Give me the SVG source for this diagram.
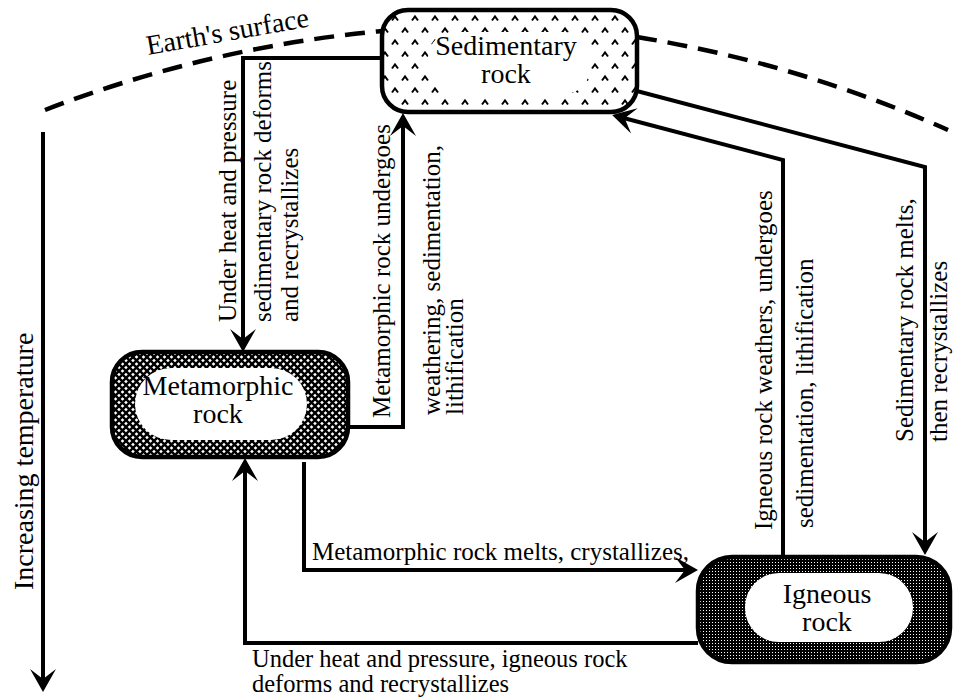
<svg xmlns="http://www.w3.org/2000/svg" width="953" height="698" viewBox="0 0 953 698">
<style>
  .lbl { font-family: "Liberation Serif", "Times New Roman", serif; font-size: 25px; fill: #000; }
  .big { font-family: "Liberation Serif", "Times New Roman", serif; font-size: 28px; fill: #000; }
  .node { stroke: #000; stroke-width: 4.5; }
  .con { fill: none; stroke: #000; stroke-width: 4; stroke-linejoin: miter; }
  .arw { marker-end: url(#ah); }
  .earth { fill: none; stroke: #000; stroke-width: 4.5; stroke-dasharray: 20 11; }
</style>
<defs>
  <marker id="ah" markerUnits="userSpaceOnUse" markerWidth="30" markerHeight="30" viewBox="-26 -15 30 30" refX="-4" refY="0" orient="auto" overflow="visible">
    <path d="M0,0 L-23,-13 L-13,0 L-23,13 Z" fill="#000"/>
  </marker>
  <pattern id="caret" patternUnits="userSpaceOnUse" width="20" height="24">
    <rect width="20" height="24" fill="#fff"/>
    <path d="M2,8.5 L5,4.5 L8,8.5 M12,20.5 L15,16.5 L18,20.5" fill="none" stroke="#000" stroke-width="2"/>
  </pattern>
  <pattern id="cross" patternUnits="userSpaceOnUse" width="7" height="7">
    <rect width="7" height="7" fill="#fff"/>
    <path d="M-1,-1 L8,8 M8,-1 L-1,8" stroke="#000" stroke-width="2.4"/>
  </pattern>
  <pattern id="stip" patternUnits="userSpaceOnUse" width="3" height="3">
    <rect width="3" height="3" fill="#000"/>
    <rect x="1" y="1" width="1" height="1" fill="#fff"/>
  </pattern>
</defs>
<rect width="953" height="698" fill="#fff"/>

<!-- Earth's surface -->
<g id="earth-surface">
  <path class="earth" d="M45,110 A1260,1260 0 0 1 382,31"/>
  <path class="earth" d="M637,37 A1260,1260 0 0 1 948,130"/>
  <text class="big" transform="translate(148,55) rotate(-10)">Earth's surface</text>
</g>

<!-- Temperature axis -->
<g id="temperature-axis">
  <path class="con arw" d="M43,132 V688"/>
  <text class="big" transform="translate(33,590) rotate(-90)">Increasing temperature</text>
</g>

<!-- Connectors -->
<g id="connectors">
  <path class="con arw" d="M382,58 H243 V348"/>
  <path class="con arw" d="M348,427 H403 V117"/>
  <path class="con arw" d="M633,90 L925,167 V551"/>
  <path class="con arw" d="M783,557 V160 L616,116"/>
  <path class="con arw" d="M304,462 V570 H694"/>
  <path class="con arw" d="M698,643 H245 V462"/>

  <text class="lbl" transform="translate(236,322) rotate(-90)">Under heat and pressure</text>
  <text class="lbl" transform="translate(271,322) rotate(-90)">sedimentary rock deforms</text>
  <text class="lbl" transform="translate(298,322) rotate(-90)">and recrystallizes</text>

  <text class="lbl" transform="translate(390,418) rotate(-90)">Metamorphic rock undergoes</text>
  <text class="lbl" transform="translate(440,415) rotate(-90)">weathering, sedimentation,</text>
  <text class="lbl" transform="translate(463,415) rotate(-90)">lithification</text>

  <text class="lbl" transform="translate(772,530) rotate(-90)">Igneous rock weathers, undergoes</text>
  <text class="lbl" transform="translate(813,528) rotate(-90)">sedimentation, lithification</text>

  <text class="lbl" transform="translate(913,442) rotate(-90)">Sedimentary rock melts,</text>
  <text class="lbl" transform="translate(947,442) rotate(-90)">then recrystallizes</text>

  <text class="lbl" x="312" y="560">Metamorphic rock melts, crystallizes,</text>
  <text class="lbl" x="252" y="667" style="font-size:24.5px">Under heat and pressure, igneous rock</text>
  <text class="lbl" x="252" y="692" style="font-size:24.5px">deforms and recrystallizes</text>
</g>

<!-- Nodes -->
<g id="sedimentary">
  <rect class="node" x="382" y="10" width="255" height="102" rx="26" fill="url(#caret)"/>
  <rect x="428" y="32" width="162" height="62" rx="26" fill="#fff"/>
  <text class="big" x="506" y="55" text-anchor="middle">Sedimentary</text>
  <text class="big" x="506" y="83" text-anchor="middle">rock</text>
</g>

<g id="metamorphic">
  <rect class="node" x="112" y="352" width="236" height="105" rx="30" fill="url(#cross)"/>
  <rect x="135" y="368" width="172" height="72" rx="36" fill="#fff"/>
  <text class="big" x="218" y="395" text-anchor="middle">Metamorphic</text>
  <text class="big" x="218" y="423" text-anchor="middle">rock</text>
</g>

<g id="igneous">
  <rect class="node" x="698" y="557" width="252" height="105" rx="34" fill="url(#stip)"/>
  <rect x="745" y="573" width="168" height="69" rx="34" fill="#fff"/>
  <text class="big" x="827" y="603" text-anchor="middle">Igneous</text>
  <text class="big" x="827" y="631" text-anchor="middle">rock</text>
</g>
</svg>
